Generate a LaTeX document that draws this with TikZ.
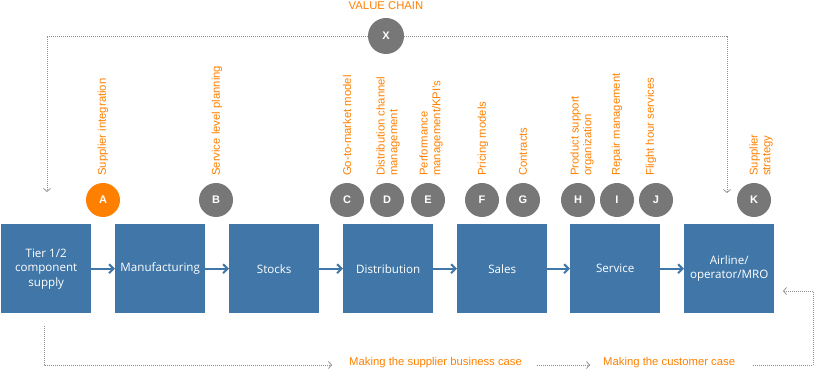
\documentclass[tikz,border=0pt]{standalone}
\usepackage{fontspec}
\setmainfont{Liberation Sans}
\newfontfamily\boxfont{Open Sans}
\usetikzlibrary{arrows.meta}
\definecolor{boxblue}{RGB}{64,119,168}
\definecolor{circgray}{RGB}{119,119,119}
\definecolor{accent}{RGB}{255,128,0}
\definecolor{dotgray}{RGB}{145,145,145}
\begin{document}
\begin{tikzpicture}[x=1pt,y=-1pt,
  stage/.style={fill=boxblue, minimum width=90pt, minimum height=89pt, inner sep=0pt, anchor=north west, text=white, font=\boxfont\fontsize{11.6}{14.5}\selectfont, align=center},
  flow/.style={draw=boxblue, line width=2pt, -{Straight Barb[length=4.5pt,width=9pt]}},
  badge/.style={circle, fill=circgray, minimum size=34pt, inner sep=0pt, text=white, font=\bfseries\fontsize{11}{13}\selectfont},
  topic/.style={rotate=90, anchor=west, inner sep=0pt, text=accent, align=left, font=\fontsize{11.3}{12.7}\selectfont},
  dotline/.style={draw=dotgray, dash pattern=on 1pt off 1pt, line width=0.8pt},
  dotarrow/.style={dotline, -{Straight Barb[length=3pt,width=7pt]}},
  casetext/.style={text=accent, font=\fontsize{11.3}{14}\selectfont, inner sep=0pt}
]
\useasboundingbox (0,0) rectangle (814,371);

% stages
\node[stage] (b1) at (1,224) {Tier 1/2\\component\\supply};
\node[stage] (b2) at (115,224) {Manufacturing};
\node[stage] (b3) at (229,224) {Stocks};
\node[stage] (b4) at (343,224) {Distribution};
\node[stage] (b5) at (457,224) {Sales};
\node[stage] (b6) at (570,224) {Service};
\node[stage] (b7) at (684,224) {Airline/\\operator/MRO};

\draw[flow] (b1) -- (b2);
\draw[flow] (b2) -- (b3);
\draw[flow] (b3) -- (b4);
\draw[flow] (b4) -- (b5);
\draw[flow] (b5) -- (b6);
\draw[flow] (b6) -- (b7);

% badges
\node[badge, fill=accent] (A) at (103,200) {A};
\node[badge] (B) at (216,200) {B};
\node[badge] (C) at (347,200) {C};
\node[badge] (D) at (387,200) {D};
\node[badge] (E) at (428,200) {E};
\node[badge] (F) at (482,200) {F};
\node[badge] (G) at (523,200) {G};
\node[badge] (H) at (578,200) {H};
\node[badge] (I) at (617,200) {I};
\node[badge] (J) at (656,200) {J};
\node[badge] (K) at (754,200) {K};
\node[badge, minimum size=36pt] (X) at (386,36) {X};

% rotated topics
\node[topic] (tA) at (103,176) {Supplier integration};
\node[topic] (tB) at (217,176) {Service level planning};
\node[topic] (tC) at (347,176) {Go-to-market model};
\node[topic] (tD) at (388,176) {Distribution channel\\management};
\node[topic] (tE) at (431,176) {Performance\\management/KPI's};
\node[topic] (tF) at (483,176) {Pricing models};
\node[topic] (tG) at (523,176) {Contracts};
\node[topic] (tH) at (582,176) {Product support\\organization};
\node[topic] (tI) at (617,176) {Repair management};
\node[topic] (tJ) at (651,176) {Flight hour services};
\node[topic] (tK) at (761,176) {Supplier\\strategy};

% value chain
\node[casetext] (vc) at (386,6) {VALUE CHAIN};
\coordinate (tl) at (47,36);
\coordinate (tla) at (47,192);
\coordinate (tr) at (727,36);
\coordinate (tra) at (727,193);
\draw[dotarrow] (X.west) -- (tl) -- (tla);
\draw[dotarrow] (X.east) -- (tr) -- (tra);

% bottom cases
\node[casetext, anchor=west] (c1) at (349,363) {Making the supplier business case};
\node[casetext, anchor=west] (c2) at (603,363) {Making the customer case};
\coordinate (bl0) at (44,326);
\coordinate (bl1) at (44,365);
\coordinate (bl2) at (332,365);
\draw[dotarrow] (bl0) -- (bl1) -- (bl2);
\coordinate (m0) at (537,365);
\coordinate (m1) at (590,365);
\draw[dotarrow] (m0) -- (m1);
\coordinate (r0) at (753,365);
\coordinate (r1) at (813,365);
\coordinate (r2) at (813,291);
\coordinate (r3) at (783,291);
\draw[dotarrow] (r0) -- (r1) -- (r2) -- (r3);
\end{tikzpicture}
\end{document}
